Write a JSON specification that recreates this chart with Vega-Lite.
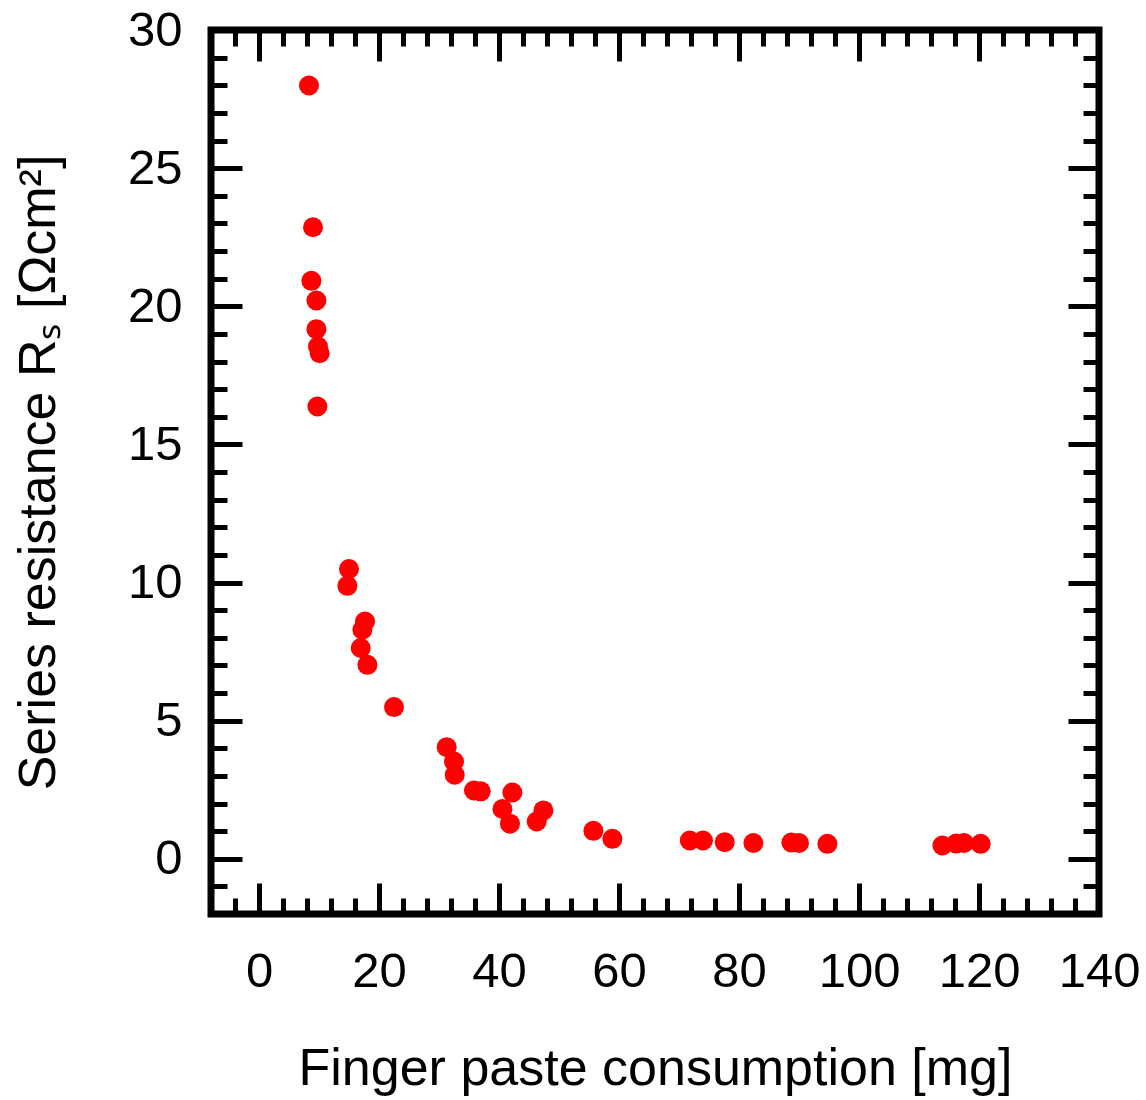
{
  "$schema": "https://vega.github.io/schema/vega-lite/v6.json",
  "width": 888,
  "height": 884,
  "autosize": {"type": "none"},
  "padding": {"left": 211, "top": 30, "right": 47, "bottom": 186},
  "background": "white",
  "config": {
    "font": "Liberation Sans",
    "view": {"stroke": "black", "strokeWidth": 7, "fill": null},
    "axis": {"grid": false, "domain": false, "labelColor": "black", "titleColor": "black", "tickColor": "black", "labelFont": "Liberation Sans", "titleFont": "Liberation Sans", "titleFontWeight": "normal"}
  },
  "data": {
    "values": [
      {"x": 8.33, "y": 27.99},
      {"x": 9.0, "y": 22.86},
      {"x": 8.73, "y": 20.92},
      {"x": 9.57, "y": 20.21},
      {"x": 9.57, "y": 19.17},
      {"x": 9.83, "y": 18.54},
      {"x": 10.12, "y": 18.3},
      {"x": 9.73, "y": 16.37},
      {"x": 15.0, "y": 10.49},
      {"x": 14.73, "y": 9.88},
      {"x": 17.67, "y": 8.59},
      {"x": 17.23, "y": 8.29},
      {"x": 16.95, "y": 7.63},
      {"x": 18.07, "y": 7.02},
      {"x": 22.5, "y": 5.49},
      {"x": 31.28, "y": 4.04},
      {"x": 32.5, "y": 3.52},
      {"x": 32.62, "y": 3.04},
      {"x": 35.83, "y": 2.47},
      {"x": 36.95, "y": 2.44},
      {"x": 42.23, "y": 2.4},
      {"x": 40.57, "y": 1.8},
      {"x": 41.83, "y": 1.27},
      {"x": 47.4, "y": 1.75},
      {"x": 46.28, "y": 1.35},
      {"x": 55.73, "y": 1.01},
      {"x": 58.9, "y": 0.72},
      {"x": 71.8, "y": 0.66},
      {"x": 74.0, "y": 0.66},
      {"x": 77.62, "y": 0.6},
      {"x": 82.4, "y": 0.57},
      {"x": 88.73, "y": 0.59},
      {"x": 90.0, "y": 0.57},
      {"x": 94.73, "y": 0.54},
      {"x": 113.9, "y": 0.48},
      {"x": 116.2, "y": 0.55},
      {"x": 117.5, "y": 0.57},
      {"x": 120.28, "y": 0.54}
    ]
  },
  "layer": [
    {
      "mark": {"type": "point", "filled": true, "color": "#ff0000", "opacity": 1, "size": 400, "shape": "circle"},
      "encoding": {
        "x": {
          "field": "x", "type": "quantitative",
          "scale": {"domain": [-8, 140], "nice": false, "zero": false},
          "axis": {
            "orient": "bottom", "values": [0, 20, 40, 60, 80, 100, 120, 140],
            "ticks": false, "labelFontSize": 49, "labelPadding": 33, "labelFlush": false, "labelOverlap": false,
            "title": "Finger paste consumption [mg]", "titleFontSize": 52, "titlePadding": 47
          }
        },
        "y": {
          "field": "y", "type": "quantitative",
          "scale": {"domain": [-2, 30], "nice": false, "zero": false},
          "axis": {
            "orient": "left", "values": [0, 5, 10, 15, 20, 25, 30],
            "ticks": false, "labelFontSize": 49, "labelPadding": 29, "labelFlush": false, "labelOverlap": false,
            "title": "Series resistance Rₛ [Ωcm²]", "titleFontSize": 52, "titlePadding": 62
          }
        }
      }
    },
    {
      "mark": {"type": "point", "opacity": 0},
      "encoding": {
        "x": {
          "field": "x", "type": "quantitative",
          "axis": {
            "orient": "bottom",
            "values": [-4, 0, 4, 8, 12, 16, 20, 24, 28, 32, 36, 40, 44, 48, 52, 56, 60, 64, 68, 72, 76, 80, 84, 88, 92, 96, 100, 104, 108, 112, 116, 120, 124, 128, 132, 136],
            "labels": false, "title": null, "tickWidth": 5,
            "tickSize": {"condition": {"test": "datum.value % 20 === 0", "value": -31}, "value": -16}
          }
        },
        "y": {
          "field": "y", "type": "quantitative",
          "axis": {
            "orient": "left",
            "values": [-1, 0, 1, 2, 3, 4, 5, 6, 7, 8, 9, 10, 11, 12, 13, 14, 15, 16, 17, 18, 19, 20, 21, 22, 23, 24, 25, 26, 27, 28, 29],
            "labels": false, "title": null, "tickWidth": 5,
            "tickSize": {"condition": {"test": "datum.value % 5 === 0", "value": -31}, "value": -16}
          }
        }
      }
    },
    {
      "mark": {"type": "point", "opacity": 0},
      "encoding": {
        "x": {
          "field": "x", "type": "quantitative",
          "axis": {
            "orient": "top",
            "values": [-4, 0, 4, 8, 12, 16, 20, 24, 28, 32, 36, 40, 44, 48, 52, 56, 60, 64, 68, 72, 76, 80, 84, 88, 92, 96, 100, 104, 108, 112, 116, 120, 124, 128, 132, 136],
            "labels": false, "title": null, "tickWidth": 5,
            "tickSize": {"condition": {"test": "datum.value % 20 === 0", "value": -31}, "value": -16}
          }
        },
        "y": {
          "field": "y", "type": "quantitative",
          "axis": {
            "orient": "right",
            "values": [-1, 0, 1, 2, 3, 4, 5, 6, 7, 8, 9, 10, 11, 12, 13, 14, 15, 16, 17, 18, 19, 20, 21, 22, 23, 24, 25, 26, 27, 28, 29],
            "labels": false, "title": null, "tickWidth": 5,
            "tickSize": {"condition": {"test": "datum.value % 5 === 0", "value": -31}, "value": -16}
          }
        }
      }
    }
  ],
  "resolve": {"axis": {"x": "independent", "y": "independent"}}
}
